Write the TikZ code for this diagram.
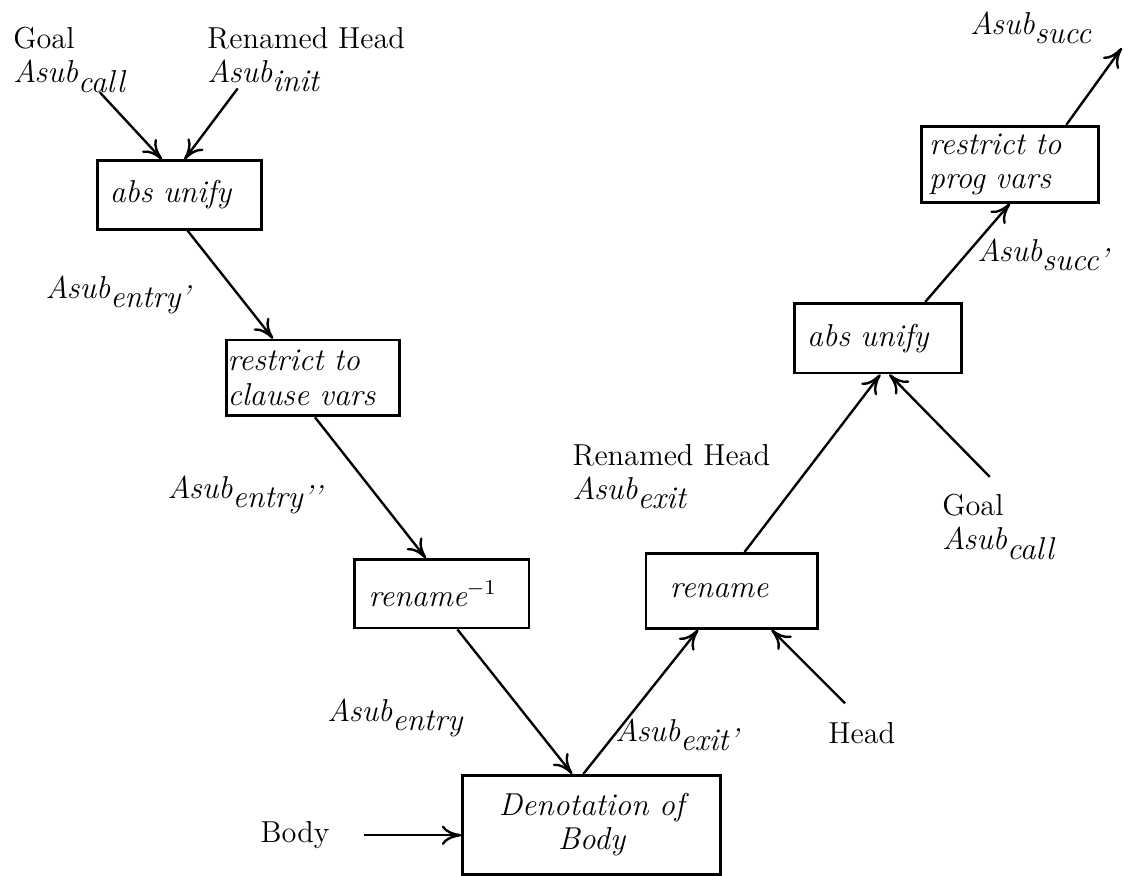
\documentclass[tikz,border=0pt]{standalone}
\usepackage{fontspec}
\usetikzlibrary{arrows.meta,calc}
\newcommand{\asub}[1]{{\fontsize{12}{13}\selectfont\itshape Asub\raisebox{-3.5pt}{#1}}}
\tikzset{
  flow/.style={-{To[length=2.6mm,width=2.6mm]},line width=0.9pt},
  opbox/.style={draw,line width=1.1pt,align=left,inner ysep=2pt,
    font=\fontsize{12}{13}\selectfont\itshape},
  lbl/.style={anchor=north west,inner sep=0pt,align=left,
    font=\fontsize{11.5}{12.9}\selectfont}
}
\begin{document}
\begin{tikzpicture}
  \useasboundingbox (0,0) rectangle (14.99,11.67);
  % operation boxes
  \node[opbox,text width=1.85cm,inner xsep=0.17cm,minimum height=0.91cm] (unifyA) at (2.39,9.07) {abs unify};
  \node[opbox,text width=2.27cm,inner xsep=0.02cm,minimum height=1.01cm] (clause) at (4.17,6.63) {restrict to\\clause vars};
  \node[opbox,text width=1.95cm,inner xsep=0.19cm,minimum height=0.91cm] (rinv) at (5.89,3.75) {rename$^{-1}$};
  \node[opbox,text width=1.65cm,inner xsep=0.32cm,minimum height=1.0cm] (rename) at (9.76,3.79) {rename};
  \node[opbox,text width=3.2cm,inner xsep=0.12cm,minimum height=1.32cm,align=center] (denot) at (7.89,0.67) {Denotation of\\Body};
  \node[opbox,text width=1.89cm,inner xsep=0.17cm,minimum height=0.93cm] (unifyB) at (11.71,7.16) {abs unify};
  \node[opbox,text width=2.16cm,inner xsep=0.1cm,minimum height=1.01cm] (prog) at (13.47,9.48) {restrict to\\prog vars};
  % labels
  \node[lbl] (goalA) at (0.17,11.31) {Goal\\\asub{call}};
  \node[lbl] (initH) at (2.76,11.31) {Renamed Head\\\asub{init}};
  \node[lbl] (entryA) at (0.6,8.0) {\asub{entry'}};
  \node[lbl] (entryB) at (2.23,5.33) {\asub{entry'{}'}};
  \node[lbl] (entryC) at (4.36,2.36) {\asub{entry}};
  \node[lbl] (exitA) at (8.2,2.09) {\asub{exit'}};
  \node[lbl] (exitH) at (7.63,5.75) {Renamed Head\\\asub{exit}};
  \node[lbl] (goalB) at (12.56,5.08) {Goal\\\asub{call}};
  \node[lbl] (head) at (11.04,2.04) {Head};
  \node[lbl] (body) at (3.47,0.72) {Body};
  \node[lbl] (succA) at (13.03,8.49) {\asub{succ'}};
  \node[lbl] (succB) at (12.93,11.52) {\asub{succ}};
  % free ends
  \coordinate (goalAin) at (1.33,10.44);
  \coordinate (initin) at (3.17,10.49);
  \coordinate (goalBin) at (13.2,5.31);
  \coordinate (headin) at (11.27,2.29);
  \coordinate (succout) at (14.96,11.03);
  % connectors
  \draw[flow] (goalAin) -- ([xshift=-0.23cm]unifyA.north);
  \draw[flow] (initin) -- ([xshift=0.07cm]unifyA.north);
  \draw[flow] ([xshift=0.11cm]unifyA.south) -- ([xshift=-0.53cm]clause.north);
  \draw[flow] ([xshift=0.03cm]clause.south) -- ([xshift=-0.21cm]rinv.north);
  \draw[flow] ([xshift=0.21cm]rinv.south) -- ([xshift=-0.26cm]denot.north);
  \draw[flow] ([xshift=-0.11cm]denot.north) -- ([xshift=-0.45cm]rename.south);
  \draw[flow] (headin) -- ([xshift=0.53cm]rename.south);
  \draw[flow] ([xshift=0.17cm]rename.north) -- ([xshift=0.03cm]unifyB.south);
  \draw[flow] (goalBin) -- ([xshift=0.15cm]unifyB.south);
  \draw[flow] ([xshift=0.63cm]unifyB.north) -- (prog.south);
  \draw[flow] ([xshift=0.75cm]prog.north) -- (succout);
  \draw[flow] ([xshift=0.45cm]body.east) -- (body.east -| denot.west);
\end{tikzpicture}
\end{document}
